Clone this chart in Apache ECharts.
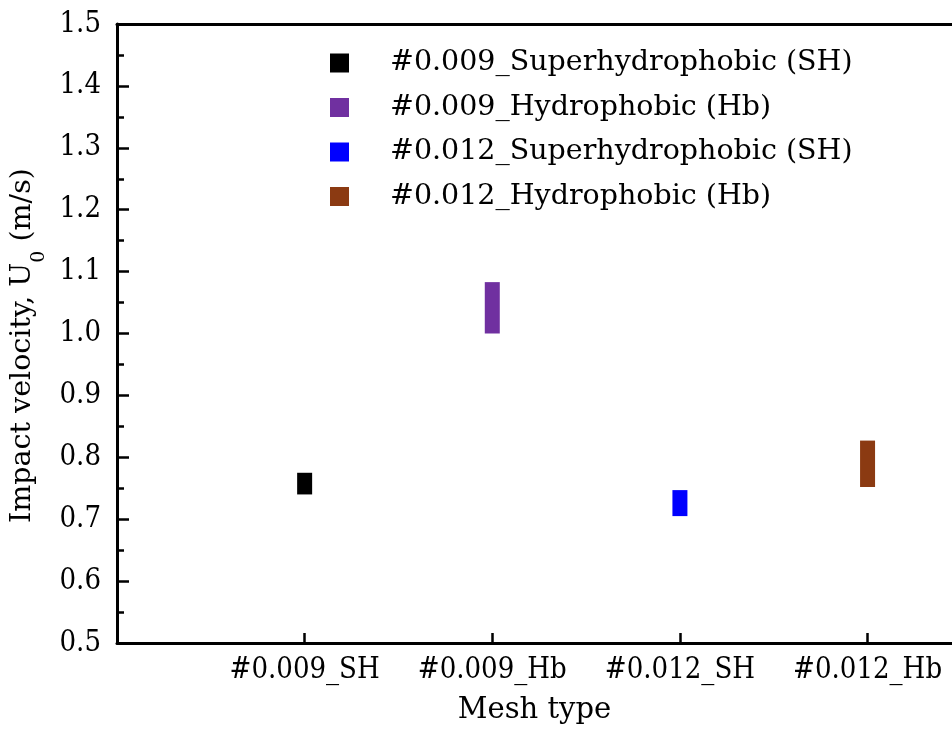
<!DOCTYPE html>
<html>
<head>
<meta charset="utf-8">
<script src="https://cdn.jsdelivr.net/npm/echarts@6/dist/echarts.min.js"></script>
<style>html,body{margin:0;padding:0;background:#fff}#c{width:952px;height:751px}</style>
</head>
<body>
<div id="c"></div>
<script>
var categories = ['#0.009_SH', '#0.009_Hb', '#0.012_SH', '#0.012_Hb'];
var seriesNames = ['#0.009_Superhydrophobic (SH)', '#0.009_Hydrophobic (Hb)', '#0.012_Superhydrophobic (SH)', '#0.012_Hydrophobic (Hb)'];
var lowValues = [0.740, 1.000, 0.705, 0.752];
var highValues = [0.775, 1.083, 0.747, 0.827];
var colors = ['#000000', '#7030A0', '#0000FF', '#8B3A12'];
var yTicks = [0.5, 0.6, 0.7, 0.8, 0.9, 1.0, 1.1, 1.2, 1.3, 1.4, 1.5];

var tickFont = 'DejaVu Serif Condensed, DejaVu Serif, serif';
var textFont = 'DejaVu Serif, serif';

var chart = echarts.init(document.getElementById('c'), null, {renderer: 'canvas'});

var series = seriesNames.map(function (name, i) {
  return {
    name: name,
    type: 'custom',
    itemStyle: {color: colors[i]},
    encode: {x: 0, y: [1, 2]},
    data: [[i + 1, lowValues[i], highValues[i]]],
    renderItem: function (params, api) {
      var x = api.value(0);
      var top = api.coord([x, api.value(2)]);
      var bot = api.coord([x, api.value(1)]);
      var w = 15;
      return {
        type: 'rect',
        shape: {x: top[0] - w / 2, y: top[1], width: w, height: bot[1] - top[1]},
        style: {fill: colors[i]}
      };
    }
  };
});

chart.setOption({
  animation: false,
  backgroundColor: '#ffffff',
  grid: {left: 117, top: 24, right: 0, bottom: 108, containLabel: false, outerBoundsMode: 'none'},
  legend: {
    orient: 'vertical',
    left: 330,
    top: 48,
    padding: 0,
    icon: 'rect',
    itemWidth: 19,
    itemHeight: 19,
    itemGap: 14.5,
    data: seriesNames,
    textStyle: {fontFamily: textFont, fontSize: 28.5, color: '#000', lineHeight: 30, padding: [0, 0, 0, 36]}
  },
  xAxis: [{
    type: 'value',
    min: 0,
    max: 4.45,
    interval: 1,
    name: 'Mesh type',
    nameLocation: 'middle',
    nameGap: 53,
    nameTextStyle: {fontFamily: textFont, fontSize: 29, color: '#000'},
    splitLine: {show: false},
    axisLine: {show: true, onZero: false, lineStyle: {color: '#000', width: 3}},
    axisTick: {show: true, inside: true, length: 10, lineStyle: {color: '#000', width: 2.5}, customValues: [1, 2, 3, 4]},
    axisLabel: {
      fontFamily: tickFont, fontSize: 29, color: '#000', margin: 13,
      customValues: [1, 2, 3, 4],
      formatter: function (v) { return categories[Math.round(v) - 1] || ''; }
    }
  }, {
    type: 'value',
    position: 'top',
    min: 0,
    max: 4.45,
    splitLine: {show: false},
    axisLine: {show: true, onZero: false, lineStyle: {color: '#000', width: 3}},
    axisTick: {show: false},
    axisLabel: {show: false}
  }],
  yAxis: {
    type: 'value',
    min: 0.5,
    max: 1.5,
    interval: 0.1,
    name: '{a|Impact velocity, U}{s|0}{a| (m/s)}',
    nameLocation: 'middle',
    nameGap: 79,
    nameRotate: 90,
    nameTextStyle: {
      padding: [0, 24, 0, 0],
      rich: {
        a: {fontFamily: textFont, fontSize: 28.5, color: '#000'},
        s: {fontFamily: textFont, fontSize: 19, color: '#000', verticalAlign: 'bottom', padding: [0, 0, -12, 0]}
      }
    },
    splitLine: {show: false},
    axisLine: {show: true, onZero: false, lineStyle: {color: '#000', width: 3}},
    axisTick: {show: true, inside: true, length: 12, lineStyle: {color: '#000', width: 2.5}},
    minorTick: {show: true, splitNumber: 2, length: 7, lineStyle: {color: '#000', width: 2.5}},
    axisLabel: {
      fontFamily: tickFont, fontSize: 29, color: '#000', margin: 16,
      formatter: function (v) { return v.toFixed(1); }
    }
  },
  series: series
});
</script>
</body>
</html>
